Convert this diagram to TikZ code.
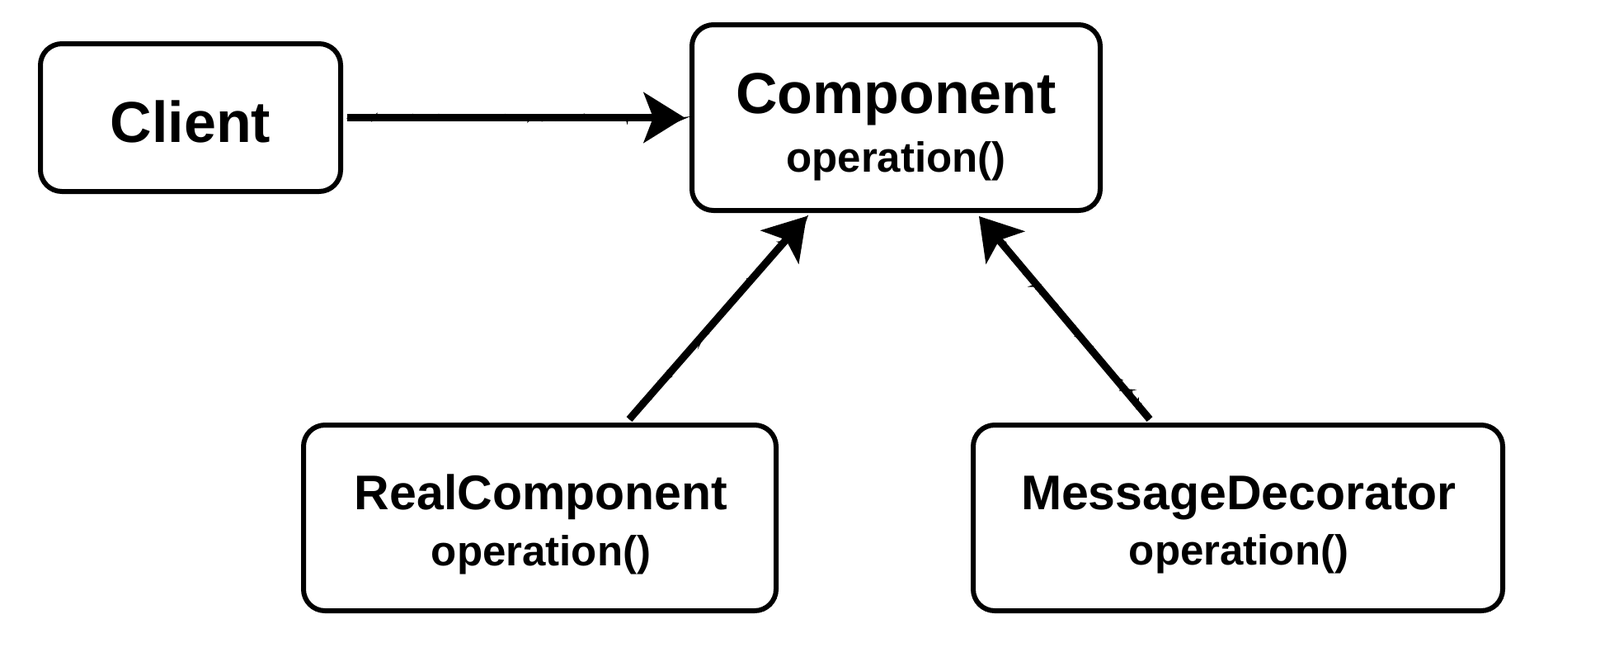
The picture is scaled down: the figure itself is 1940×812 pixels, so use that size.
\documentclass[tikz,border=0pt]{standalone}
\usepackage{fontspec}
\setmainfont{Liberation Sans}
\usetikzlibrary{arrows.meta,decorations.pathmorphing,calc}
\begin{document}
\begin{tikzpicture}[x=1pt,y=-1pt,
  box/.style={draw, line width=6pt, rounded corners=26pt, inner sep=0pt},
  ttl/.style={anchor=base, inner sep=0pt, font=\bfseries\fontsize{70}{70}\selectfont},
  subttl/.style={anchor=base, inner sep=0pt, font=\bfseries\fontsize{59}{59}\selectfont},
  op/.style={anchor=base, inner sep=0pt, font=\bfseries\fontsize{51}{51}\selectfont},
  conn/.style={line width=9pt, -{Stealth[length=50pt,width=62pt,inset=12pt,line width=2pt]}},
  rough/.style={line width=3pt, shorten >=35pt, decorate, decoration={random steps, segment length=3pt, amplitude=3pt}}]
\fill[white] (0,0) rectangle (1940,812);
\useasboundingbox (0,0) rectangle (1940,812);
% boxes
\node[box, minimum width=364pt, minimum height=179pt] (client) at (231,142.5) {};
\node[box, minimum width=495pt, minimum height=225pt] (comp) at (1086.5,142.5) {};
\node[box, minimum width=573pt, minimum height=225pt] (real) at (654.5,627.5) {};
\node[box, minimum width=642pt, minimum height=225pt] (msg) at (1501,627.5) {};
% texts
\node[ttl] (clientT) at (231,172) {Client};
\node[ttl] (compT) at (1086.5,137) {Component};
\node[op] (compO) at (1086.5,208) {operation()};
\node[subttl] (realT) at (656,617) {RealComponent};
\node[op] (realO) at (656,685) {operation()};
\node[subttl] (msgT) at (1502,617) {MessageDecorator};
\node[op] (msgO) at (1502,684) {operation()};
% connectors
\draw[conn] ($(client.east)+(5,0)$) -- ($(comp.west)+(-6,0)$);
\draw[rough] ($(client.east)+(5,0)$) -- ($(comp.west)+(-6,0)$);
\draw[conn] ($(real.north)+(108.5,-4)$) -- ($(comp.south)+(-108.5,4)$);
\draw[rough] ($(real.north)+(108.5,-4)$) -- ($(comp.south)+(-108.5,4)$);
\draw[conn] ($(msg.north)+(-107,-4)$) -- ($(comp.south)+(100.5,4)$);
\draw[rough] ($(msg.north)+(-107,-4)$) -- ($(comp.south)+(100.5,4)$);
\end{tikzpicture}
\end{document}
